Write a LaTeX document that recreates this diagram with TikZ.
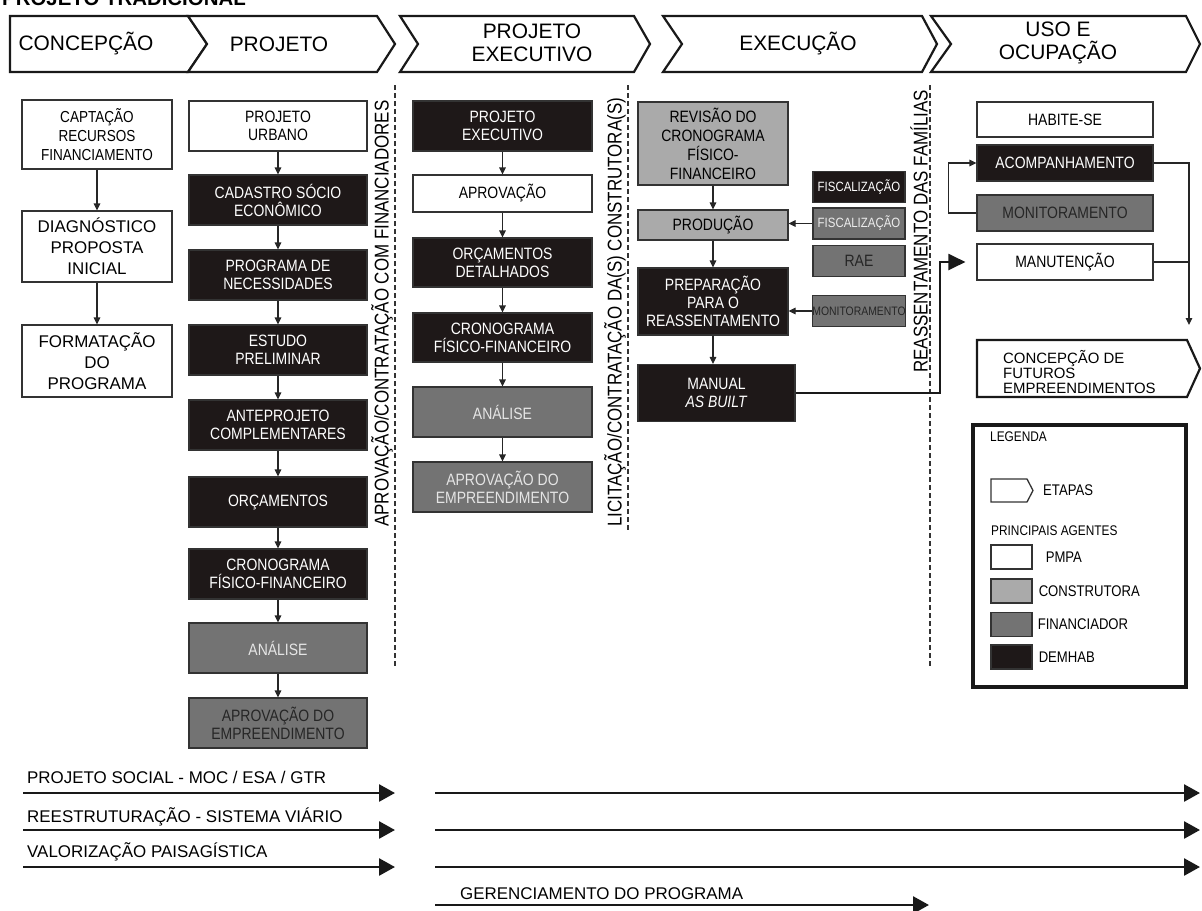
\documentclass[tikz,border=0pt]{standalone}
\usepackage{fontspec}
\setmainfont{Liberation Sans}
\newfontfamily\narrowfont[FakeStretch=0.85]{Liberation Sans}
\usetikzlibrary{arrows.meta,positioning,calc}
\definecolor{demBlack}{RGB}{30,24,24}
\definecolor{finGray}{RGB}{115,115,115}
\definecolor{conGray}{RGB}{170,170,170}
\newcommand\fsz[2]{\fontsize{#1}{#2}\selectfont}

\begin{document}
\begin{tikzpicture}[x=1bp, y=-1bp,
    bx/.style={draw=black!80, line width=1.1bp, inner sep=0pt, align=center,
               minimum height=50bp, font=\narrowfont\fsz{16.5}{18}},
    pmpa/.style={bx, fill=white, text=black},
    constr/.style={bx, fill=conGray, text=black},
    finan/.style={bx, fill=finGray, text=black!85},
    demhab/.style={bx, fill=demBlack, text=white},
    etapa/.style={draw=black!90, line width=2.2bp, fill=white, line join=miter},
    etxt/.style={inner sep=0pt, align=center, font=\fsz{21}{23}},
    fase/.style={dash pattern=on 5bp off 3bp, line width=1.2bp, black!80},
    vtext/.style={rotate=90, inner sep=0pt, anchor=south west, font=\narrowfont\fsz{20}{22}},
    legtxt/.style={inner sep=0pt, anchor=west, font=\narrowfont\fsz{15.5}{16}},
    arr/.style={-{Triangle[length=7bp,width=6.5bp]}, line width=1.1bp, black!85},
    bigarr/.style={-{Triangle[length=17bp,width=16bp]}, line width=2bp, black!90},
    flow/.style={-{Triangle[length=16bp,width=17bp]}, line width=2.6bp, black!90}
  ]
  \useasboundingbox (0,0) rectangle (1202,911);
  \node[anchor=base west, inner sep=0pt, font=\bfseries\fsz{20.5}{22}] (titulo) at (2,5) {PROJETO TRADICIONAL};

  % etapas
  \draw[etapa] (10,16) -- (188,16) -- (207,44) -- (188,72) -- (10,72) -- cycle;
  \draw[etapa] (188,16) -- (377,16) -- (395,44) -- (377,72) -- (188,72) -- (207,44) -- cycle;
  \draw[etapa] (400,16) -- (634,16) -- (650,44) -- (634,72) -- (400,72) -- (418,44) -- cycle;
  \draw[etapa] (663,16) -- (922,16) -- (937,44) -- (922,72) -- (663,72) -- (682,44) -- cycle;
  \draw[etapa] (931,16) -- (1186,16) -- (1200,44) -- (1186,72) -- (931,72) -- (951,44) -- cycle;
  \node[etxt] (hcon) at (86,44) {CONCEPÇÃO};
  \node[etxt] (hpro) at (279,44) {PROJETO};
  \node[etxt] (hexe) at (532,43) {PROJETO\\EXECUTIVO};
  \node[etxt] (hexc) at (798,44) {EXECUÇÃO};
  \node[etxt] (huso) at (1058,43) {USO E\\OCUPAÇÃO};

  % divisoes
  \draw[fase] (395,85) -- (395,667);
  \draw[fase] (628,85) -- (628,530);
  \draw[fase] (930,85) -- (930,667);
  \node[vtext] (v1) at (393,527) {APROVAÇÃO/CONTRATAÇÃO COM FINANCIADORES};
  \node[vtext] (v2) at (626,527) {LICITAÇÃO/CONTRATAÇÃO DA(S) CONSTRUTORA(S)};
  \node[vtext] (v3) at (928,373) {REASSENTAMENTO DAS FAMÍLIAS};

  % concepcao
  \node[pmpa, minimum width=150bp, minimum height=69bp, font=\narrowfont\fsz{16}{19}] (capt) at (97,134.5) {CAPTAÇÃO\\RECURSOS\\FINANCIAMENTO};
  \node[pmpa, minimum width=150bp, minimum height=71bp, font=\fsz{17}{21}] (diag) at (97,246.5) {DIAGNÓSTICO\\PROPOSTA\\INICIAL};
  \node[pmpa, minimum width=150bp, minimum height=72bp, font=\fsz{17}{21}] (form) at (97,361) {FORMATAÇÃO\\DO\\PROGRAMA};

  % projeto
  \node[pmpa, minimum width=178bp] (urb) at (278,126) {PROJETO\\URBANO};
  \node[demhab, minimum width=178bp] (cad) at (278,200) {CADASTRO SÓCIO\\ECONÔMICO};
  \node[demhab, minimum width=178bp] (prog) at (278,275) {PROGRAMA DE\\NECESSIDADES};
  \node[demhab, minimum width=178bp] (estu) at (278,350) {ESTUDO\\PRELIMINAR};
  \node[demhab, minimum width=178bp] (ante) at (278,425) {ANTEPROJETO\\COMPLEMENTARES};
  \node[demhab, minimum width=178bp] (orc) at (278,502) {ORÇAMENTOS};
  \node[demhab, minimum width=178bp] (cron) at (278,574) {CRONOGRAMA\\FÍSICO-FINANCEIRO};
  \node[finan, minimum width=178bp, text=gray!20] (anl) at (278,648) {ANÁLISE};
  \node[finan, minimum width=178bp] (apr) at (278,723) {APROVAÇÃO DO\\EMPREENDIMENTO};

  % projeto executivo
  \node[demhab, minimum width=179bp] (pexe) at (502.5,126) {PROJETO\\EXECUTIVO};
  \node[pmpa, minimum width=179bp, minimum height=37bp] (aprv) at (502.5,193.5) {APROVAÇÃO};
  \node[demhab, minimum width=179bp, minimum height=49bp] (odet) at (502.5,262.5) {ORÇAMENTOS\\DETALHADOS};
  \node[demhab, minimum width=179bp, minimum height=49bp] (cfis) at (502.5,337.5) {CRONOGRAMA\\FÍSICO-FINANCEIRO};
  \node[finan, minimum width=179bp, text=gray!20] (anl2) at (502.5,412) {ANÁLISE};
  \node[finan, minimum width=179bp, text=gray!20] (apr2) at (502.5,487) {APROVAÇÃO DO\\EMPREENDIMENTO};

  % execucao
  \node[constr, minimum width=150bp, minimum height=83bp, font=\narrowfont\fsz{16.5}{19}] (revi) at (713,143.5) {REVISÃO DO\\CRONOGRAMA\\FÍSICO-\\FINANCEIRO};
  \node[constr, minimum width=150bp, minimum height=30bp] (prod) at (713,225) {PRODUÇÃO};
  \node[demhab, minimum width=150bp, minimum height=67bp] (prep) at (713,301.5) {PREPARAÇÃO\\PARA O\\REASSENTAMENTO};
  \node[demhab, minimum width=157bp, minimum height=57bp] (manu) at (716.5,393) {MANUAL\\\textit{AS BUILT}};
  \node[demhab, minimum width=92bp, minimum height=31bp, font=\narrowfont\fsz{13.5}{14}] (fisc1) at (859,187) {FISCALIZAÇÃO};
  \node[finan, minimum width=92bp, minimum height=31bp, text=gray!15, font=\narrowfont\fsz{13.5}{14}] (fisc2) at (859,223.5) {FISCALIZAÇÃO};
  \node[finan, minimum width=92bp, minimum height=31bp] (rae) at (859,261) {RAE};
  \node[finan, minimum width=92bp, minimum height=31bp, font=\narrowfont\fsz{12.3}{13}] (moni1) at (859,311) {MONITORAMENTO};

  % uso e ocupacao
  \node[pmpa, minimum width=176bp, minimum height=35bp] (habi) at (1065,119.5) {HABITE-SE};
  \node[demhab, minimum width=176bp, minimum height=36bp] (acom) at (1065,163) {ACOMPANHAMENTO};
  \node[finan, minimum width=176bp, minimum height=36bp] (moni2) at (1065,213) {MONITORAMENTO};
  \node[pmpa, minimum width=176bp, minimum height=36bp] (manut) at (1065,262) {MANUTENÇÃO};
  \draw[etapa] (977,340) -- (1187,340) -- (1200,368.5) -- (1187,397) -- (977,397) -- cycle;
  \node[anchor=west, align=left, inner sep=0pt, font=\fsz{15}{15}] (futu) at (1003,372) {CONCEPÇÃO DE\\FUTUROS\\EMPREENDIMENTOS};

  \foreach \a/\b in {capt/diag, diag/form, urb/cad, cad/prog, prog/estu, estu/ante, ante/orc,
                     orc/cron, cron/anl, anl/apr, pexe/aprv, aprv/odet, odet/cfis, cfis/anl2,
                     anl2/apr2, revi/prod, prod/prep}
    \draw[arr] (\a) -- (\b);
  \draw[arr] (prep.south) -- (prep.south |- manu.north);
  \draw[arr] (fisc2.west) -- (fisc2.west -| prod.east);
  \draw[arr] (moni1.west) -- (moni1.west -| prep.east);
  \draw[arr] (moni2.west) -- ++(-28,0) |- (acom.west);
  \coordinate (desce) at (1189,325);
  \draw[arr] (acom.east) -| (desce);
  \draw[line width=1.1bp, black!85] (manut.east) -- (manut.east -| desce);
  \coordinate (volta) at (940,393);
  \draw[bigarr] (manu.east) -- (volta) |- ([xshift=-11bp]manut.west);

  % legenda
  \node[draw=black!90, line width=3.5bp, minimum width=213bp, minimum height=262bp, inner sep=0pt] (leg) at (1079.5,556) {};
  \node[legtxt, font=\narrowfont\fsz{14}{15}] (legt) at (990,437) {LEGENDA};
  \draw[draw=black!80, line width=1.3bp, fill=white] (991,479) -- (1027,479) -- (1033,490.5) -- (1027,502) -- (991,502) -- cycle;
  \node[legtxt] (etap) at (1043,490) {ETAPAS};
  \node[legtxt, font=\narrowfont\fsz{14}{15}] (agen) at (991,531) {PRINCIPAIS AGENTES};
  \node[pmpa, minimum width=41bp, minimum height=24bp] (kpm) at (1011.5,557) {};
  \node[constr, minimum width=41bp, minimum height=24bp] (kco) at (1011.5,591) {};
  \node[finan, minimum width=41bp, minimum height=24bp] (kfi) at (1011.5,624.5) {};
  \node[demhab, minimum width=41bp, minimum height=24bp] (kde) at (1011.5,657) {};
  \node[legtxt, right=13bp of kpm] (lpm) {PMPA};
  \node[legtxt, right=6bp of kco] (lco) {CONSTRUTORA};
  \node[legtxt, right=5bp of kfi] (lfi) {FINANCIADOR};
  \node[legtxt, right=6bp of kde] (lde) {DEMHAB};

  % acoes continuas
  \node[anchor=base west, inner sep=0pt, font=\fsz{17}{18}] (soc) at (27,783) {PROJETO SOCIAL - MOC / ESA / GTR};
  \node[anchor=base west, inner sep=0pt, font=\fsz{17}{18}] (via) at (27,822) {REESTRUTURAÇÃO - SISTEMA VIÁRIO};
  \node[anchor=base west, inner sep=0pt, font=\fsz{17}{18}] (pai) at (27,857) {VALORIZAÇÃO PAISAGÍSTICA};
  \node[anchor=base west, inner sep=0pt, font=\fsz{17}{18}] (ger) at (460,899) {GERENCIAMENTO DO PROGRAMA};
  \coordinate (s0) at (23,793);  \coordinate (s1) at (395,793);
  \coordinate (s2) at (435,793); \coordinate (s3) at (1200,793);
  \coordinate (r0) at (23,830);  \coordinate (r1) at (395,830);
  \coordinate (r2) at (435,830); \coordinate (r3) at (1200,830);
  \coordinate (p0) at (23,867);  \coordinate (p1) at (395,867);
  \coordinate (p2) at (435,867); \coordinate (p3) at (1200,867);
  \coordinate (g0) at (435,905); \coordinate (g1) at (929,905);
  \draw[flow] (s0) -- (s1);
  \draw[flow] (s2) -- (s3);
  \draw[flow] (r0) -- (r1);
  \draw[flow] (r2) -- (r3);
  \draw[flow] (p0) -- (p1);
  \draw[flow] (p2) -- (p3);
  \draw[flow] (g0) -- (g1);
\end{tikzpicture}
\end{document}
